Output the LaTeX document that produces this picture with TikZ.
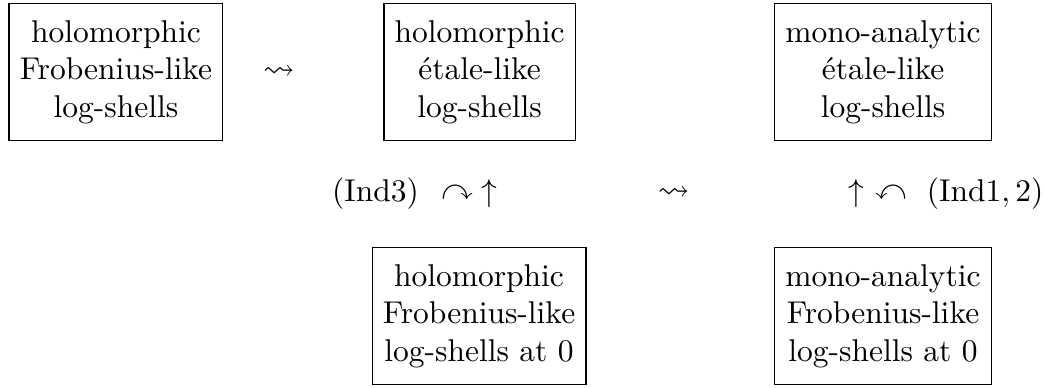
\documentclass[tikz,border=0pt]{standalone}
\usepackage{amsmath,amssymb}
\usepackage{tikz}
\tikzset{every node/.append style={font=\rmfamily}}
\tikzset{logbox/.style={draw,line width=.4pt,align=center,inner xsep=3.4pt,inner ysep=5.3pt},
  glyph/.style={inner sep=0pt}}

\begin{document}
\begin{tikzpicture}[x=1cm,y=1cm]
  \useasboundingbox (0,0) rectangle (11.66,4.32);
  % top row
  \node[logbox] (holFrob) at (1.294,3.515) {holomorphic\\Frobenius-like\\log-shells};
  \node[glyph] (sqTop) at (3.113,3.515) {$\rightsquigarrow$};
  \node[logbox] (holEt) at (5.351,3.515) {holomorphic\\étale-like\\log-shells};
  \node[logbox] (monoEt) at (9.853,3.515) {mono-analytic\\étale-like\\log-shells};
  % middle row
  \node[glyph] (indIII) at (4.190,2.165) {$(\mathrm{Ind}3)$};
  \node[glyph] (cvR) at (5.100,2.165) {$\curvearrowright$};
  \node[glyph] (upL) at (5.457,2.165) {$\uparrow$};
  \node[glyph] (sqMid) at (7.516,2.165) {$\rightsquigarrow$};
  \node[glyph] (upR) at (9.552,2.165) {$\uparrow$};
  \node[glyph] (cvL) at (9.943,2.165) {$\curvearrowleft$};
  \node[glyph] (indI) at (10.992,2.165) {$(\mathrm{Ind}1,2)$};
  % bottom row
  \node[logbox] (holZero) at (5.345,.792) {holomorphic\\Frobenius-like\\log-shells at 0};
  \node[logbox] (monoZero) at (9.853,.792) {mono-analytic\\Frobenius-like\\log-shells at 0};
\end{tikzpicture}
\end{document}
